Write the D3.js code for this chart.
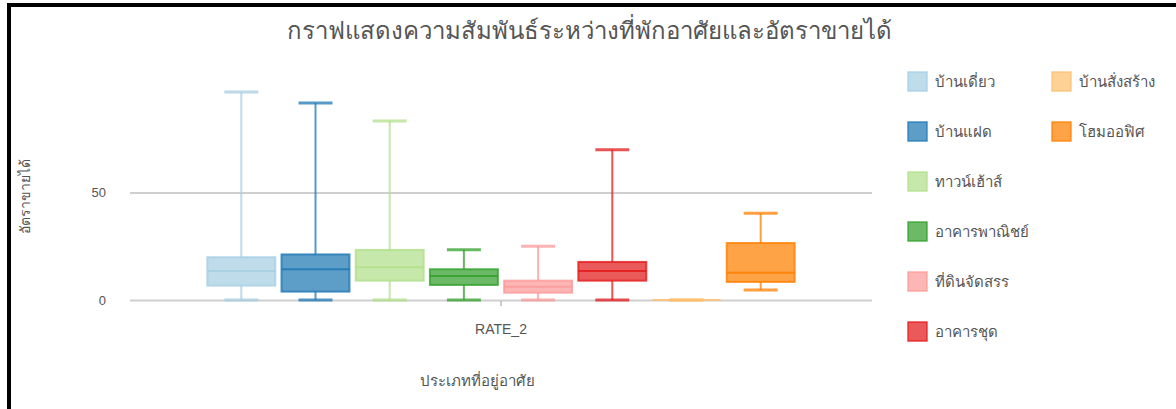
<!DOCTYPE html>
<html>
<head>
<meta charset="utf-8">
<script src="https://cdnjs.cloudflare.com/ajax/libs/d3/7.8.5/d3.min.js"></script>
<style>
  html, body { margin: 0; background: #fff; overflow: hidden; }
  svg { display: block; font-family: "Noto Sans", "DejaVu Sans", sans-serif; }
</style>
</head>
<body>
<svg id="chart_svg" width="1176" height="409"></svg>
<script>
// data
var groups = ["RATE_2"];
var categories = ["บ้านเดี่ยว", "บ้านแฝด", "ทาวน์เฮ้าส์", "อาคารพาณิชย์", "ที่ดินจัดสรร", "อาคารชุด", "บ้านสั่งสร้าง", "โฮมออฟิศ"];
var minValues    = [0,    0,    0,    0,    0,    0,    0, 4.7];
var q1Values     = [6.7,  3.9,  9.0,  7.0,  3.4,  9.0,  0, 8.4];
var medianValues = [13.5, 14.3, 15.2, 11.2, 6.2,  13.5, 0, 12.7];
var q3Values     = [19.9, 21.2, 23.3, 14.3, 9.0,  17.7, 0, 26.5];
var maxValues    = [96.7, 91.6, 83.3, 23.4, 25.0, 69.9, 0, 40.3];
var yTicks = [0, 50];

var colors = ["#a6cee3", "#1f78b4", "#b2df8a", "#33a02c", "#fb9a99", "#e31a1c", "#fdbf6f", "#ff7f00"];
var color = d3.scaleOrdinal().domain(categories).range(colors);

var svg, gPlot;
var margin = {top: 85, bottom: 109, left: 130, right: 304};

document.addEventListener('DOMContentLoaded', function () {
    svg = d3.select("#chart_svg");
    var svgWidth = +svg.attr("width");
    var svgHeight = +svg.attr("height");
    var innerWidth = svgWidth - margin.left - margin.right;
    var innerHeight = svgHeight - margin.top - margin.bottom;

    // frame: only the top and left edge are in the picture
    svg.append("path")
        .attr("d", "M9," + svgHeight + "V5H" + svgWidth)
        .attr("fill", "none")
        .attr("stroke", "#000")
        .attr("stroke-width", 4);

    // title
    svg.append("text")
        .attr("x", 589).attr("y", 39)
        .attr("text-anchor", "middle")
        .attr("fill", "#555")
        .style("font-size", "24px")
        .text("กราฟแสดงความสัมพันธ์ระหว่างที่พักอาศัยและอัตราขายได้");

    gPlot = svg.append("g")
        .attr("transform", "translate(" + margin.left + "," + margin.top + ")");

    var yScale = d3.scaleLinear().domain([0, 100]).range([innerHeight, 0]);
    var xScale = d3.scaleBand().domain(groups).range([0, innerWidth]);
    var x1 = d3.scaleBand().domain(categories)
        .range([xScale.bandwidth() * 0.1, xScale.bandwidth() * 0.9])
        .paddingInner(0.084).paddingOuter(0.042);

    // gridlines
    var yAxis = d3.axisLeft(yScale).tickValues(yTicks).tickSize(-innerWidth).tickPadding(24);
    var gy = gPlot.append("g").call(yAxis);
    gy.select(".domain").remove();
    gy.selectAll(".tick line").attr("stroke", "#cfcfcf").attr("stroke-width", 2);
    gy.selectAll(".tick text").attr("fill", "#555").style("font-size", "13px");

    // x axis tick
    var xAxis = d3.axisBottom(xScale).tickSize(6).tickPadding(18);
    var gx = gPlot.append("g")
        .attr("transform", "translate(0," + innerHeight + ")")
        .call(xAxis);
    gx.select(".domain").remove();
    gx.selectAll(".tick line").attr("stroke", "#999").attr("y1", 1);
    gx.selectAll(".tick text").attr("fill", "#555").style("font-size", "14px");

    // boxes
    var boxData = categories.map(function (c, i) {
        return {cat: c, min: minValues[i], q1: q1Values[i], med: medianValues[i], q3: q3Values[i], max: maxValues[i]};
    });
    var bw = x1.bandwidth();
    var gBox = gPlot.append("g")
        .attr("transform", "translate(" + xScale("RATE_2") + ",0)");
    var box = gBox.selectAll("g.box")
        .data(boxData)
        .enter()
        .append("g")
        .attr("class", "box")
        .attr("transform", function (d) { return "translate(" + x1(d.cat) + ",0)"; });

    // whisker stem
    box.append("line")
        .attr("x1", bw / 2).attr("x2", bw / 2)
        .attr("y1", function (d) { return yScale(d.max); })
        .attr("y2", function (d) { return yScale(d.min); })
        .attr("stroke", function (d) { return color(d.cat); })
        .attr("stroke-opacity", 0.75)
        .attr("stroke-width", 2);
    // caps
    box.append("line")
        .attr("x1", bw / 4).attr("x2", bw * 3 / 4)
        .attr("y1", function (d) { return yScale(d.max); })
        .attr("y2", function (d) { return yScale(d.max); })
        .attr("stroke", function (d) { return color(d.cat); })
        .attr("stroke-opacity", 0.75)
        .attr("stroke-width", 3);
    box.append("line")
        .attr("x1", bw / 4).attr("x2", bw * 3 / 4)
        .attr("y1", function (d) { return yScale(d.min); })
        .attr("y2", function (d) { return yScale(d.min); })
        .attr("stroke", function (d) { return color(d.cat); })
        .attr("stroke-opacity", 0.75)
        .attr("stroke-width", 3);
    // box body
    box.append("rect")
        .attr("x", 0)
        .attr("y", function (d) { return yScale(d.q3); })
        .attr("width", bw)
        .attr("height", function (d) { return yScale(d.q1) - yScale(d.q3); })
        .attr("fill", "#fff");
    box.append("rect")
        .attr("x", 0)
        .attr("y", function (d) { return yScale(d.q3); })
        .attr("width", bw)
        .attr("height", function (d) { return yScale(d.q1) - yScale(d.q3); })
        .attr("fill", function (d) { return color(d.cat); })
        .attr("fill-opacity", 0.72)
        .attr("stroke", function (d) { return color(d.cat); })
        .attr("stroke-opacity", 0.8)
        .attr("stroke-width", 2);
    // median
    box.append("line")
        .attr("x1", 0).attr("x2", bw)
        .attr("y1", function (d) { return yScale(d.med); })
        .attr("y2", function (d) { return yScale(d.med); })
        .attr("stroke", function (d) { return color(d.cat); })
        .attr("stroke-opacity", 0.85)
        .attr("stroke-width", 2);

    // axis titles
    svg.append("text")
        .attr("transform", "translate(30,196) rotate(-90)")
        .attr("text-anchor", "middle")
        .attr("fill", "#555")
        .style("font-size", "14px")
        .text("อัตราขายได้");
    svg.append("text")
        .attr("x", 477).attr("y", 386)
        .attr("text-anchor", "middle")
        .attr("fill", "#555")
        .style("font-size", "15px")
        .text("ประเภทที่อยู่อาศัย");

    // legend, 6 per column
    var legend = svg.append("g")
        .selectAll("g")
        .data(categories)
        .enter()
        .append("g")
        .attr("transform", function (d, i) {
            var col = Math.floor(i / 6), row = i % 6;
            return "translate(" + (908 + col * 144) + "," + (72 + row * 50) + ")";
        });
    legend.append("rect")
        .attr("width", 19).attr("height", 19)
        .attr("fill", function (d) { return color(d); })
        .attr("fill-opacity", 0.72)
        .attr("stroke", function (d) { return color(d); })
        .attr("stroke-opacity", 0.8)
        .attr("stroke-width", 1.5);
    legend.append("text")
        .attr("x", 27).attr("y", 15)
        .attr("fill", "#555")
        .style("font-size", "15px")
        .text(function (d) { return d; });
});
</script>
</body>
</html>
